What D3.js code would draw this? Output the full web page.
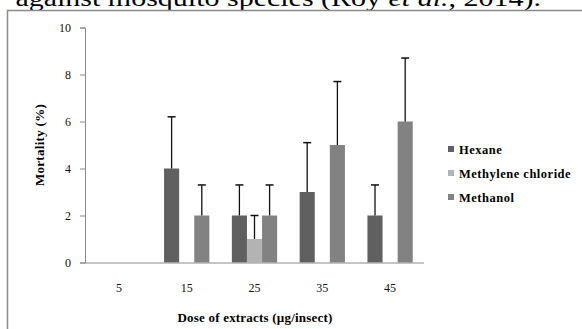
<!DOCTYPE html>
<html>
<head>
<meta charset="utf-8">
<script src="https://cdn.jsdelivr.net/npm/d3@7"></script>
<style>
  body { margin: 0; background: #fff; }
  svg { display: block; font-family: "Liberation Serif", "Times New Roman", serif; }
</style>
</head>
<body>
<svg id="chart" width="582" height="329"></svg>
<script>
const doses = ["5", "15", "25", "35", "45"];
const seriesNames = ["Hexane", "Methylene chloride", "Methanol"];
const hexane = [0, 4, 2, 3, 2];
const hexaneErr = [0, 6.2, 3.3, 5.1, 3.3];
const methylene = [0, 0, 1, 0, 0];
const methyleneErr = [0, 0, 2, 0, 0];
const methanol = [0, 2, 2, 5, 6];
const methanolErr = [0, 3.3, 3.3, 7.7, 8.7];
const yTicks = [0, 2, 4, 6, 8, 10];

const colors = ["#606060", "#b3b3b3", "#828282"];

const values = [hexane, methylene, methanol];
const errs = [hexaneErr, methyleneErr, methanolErr];

const svg = d3.select("#chart");

// cut off caption line from the page above
svg.append("text")
  .attr("transform", "translate(541,6) scale(1,0.8)")
  .attr("text-anchor", "end")
  .attr("font-size", 30)
  .attr("fill", "#000")
  .html('against mosquito species (Roy <tspan font-style="italic">et al.</tspan>, 2014).');

// frame
svg.append("path")
  .attr("d", "M7.5,329 V10.5 H582")
  .attr("fill", "none")
  .attr("stroke", "#8a8a8a")
  .attr("stroke-width", 1.5);

const x0 = d3.scaleBand()
  .domain(doses)
  .range([85, 424]);

const bw = x0.bandwidth();
const x1 = d3.scaleBand()
  .domain(seriesNames)
  .range([bw * 0.166, bw * 0.834]);

const y = d3.scaleLinear()
  .domain([0, 10])
  .range([262.5, 27.5]);

// bars
seriesNames.forEach((s, si) => {
  const rows = doses.map((d, i) => ({ dose: d, v: values[si][i], e: errs[si][i] }));
  const g = svg.append("g");
  g.selectAll("rect")
    .data(rows.filter(d => d.v > 0))
    .join("rect")
    .attr("x", d => x0(d.dose) + x1(s))
    .attr("y", d => y(d.v))
    .attr("width", x1.bandwidth())
    .attr("height", d => y(0) - y(d.v))
    .attr("fill", colors[si]);

  // error bars (upper only)
  const cx = d => x0(d.dose) + x1(s) + x1.bandwidth() / 2;
  const eb = g.selectAll("g.err")
    .data(rows.filter(d => d.e > 0))
    .join("g");
  eb.append("line")
    .attr("x1", cx).attr("x2", cx)
    .attr("y1", d => y(d.v))
    .attr("y2", d => y(d.e))
    .attr("stroke", "#111")
    .attr("stroke-width", 1.3);
  eb.append("line")
    .attr("x1", d => cx(d) - 4)
    .attr("x2", d => cx(d) + 4)
    .attr("y1", d => y(d.e))
    .attr("y2", d => y(d.e))
    .attr("stroke", "#111")
    .attr("stroke-width", 1.5);
});

// y axis
const yAxis = svg.append("g")
  .attr("transform", "translate(85,0)")
  .call(d3.axisLeft(y).tickValues(yTicks).tickSize(5).tickPadding(9));
yAxis.selectAll("path, line").attr("stroke", "#8a8a8a");
yAxis.selectAll("text")
  .attr("font-family", "Liberation Serif, serif")
  .attr("font-size", 12)
  .attr("fill", "#111");

// x axis
const xAxis = svg.append("g")
  .attr("transform", `translate(0,${y(0)})`)
  .call(d3.axisBottom(x0).tickSize(0).tickPadding(21));
xAxis.select("path").attr("stroke", "#8a8a8a").attr("d", `M85,0.5H424`);
xAxis.selectAll("text")
  .attr("font-family", "Liberation Serif, serif")
  .attr("font-size", 12)
  .attr("fill", "#111");

// axis titles
svg.append("text")
  .attr("transform", "translate(44,145) rotate(-90)")
  .attr("text-anchor", "middle")
  .attr("font-size", 13)
  .attr("font-weight", "bold")
  .attr("letter-spacing", 0.3)
  .text("Mortality (%)");

svg.append("text")
  .attr("x", 255).attr("y", 322)
  .attr("text-anchor", "middle")
  .attr("font-size", 13)
  .attr("font-weight", "bold")
  .attr("letter-spacing", 0.2)
  .text("Dose of extracts (µg/insect)");

// legend
const legend = svg.append("g").attr("transform", "translate(448,150)");
seriesNames.forEach((s, i) => {
  const row = legend.append("g").attr("transform", `translate(0,${i * 24})`);
  row.append("rect")
    .attr("x", 0).attr("y", -4)
    .attr("width", 6).attr("height", 6)
    .attr("fill", colors[i]);
  row.append("text")
    .attr("x", 11).attr("y", 3.5)
    .attr("font-size", 12.5)
    .attr("font-weight", "bold")
    .attr("letter-spacing", 0.5)
    .text(s);
});
</script>
</body>
</html>
